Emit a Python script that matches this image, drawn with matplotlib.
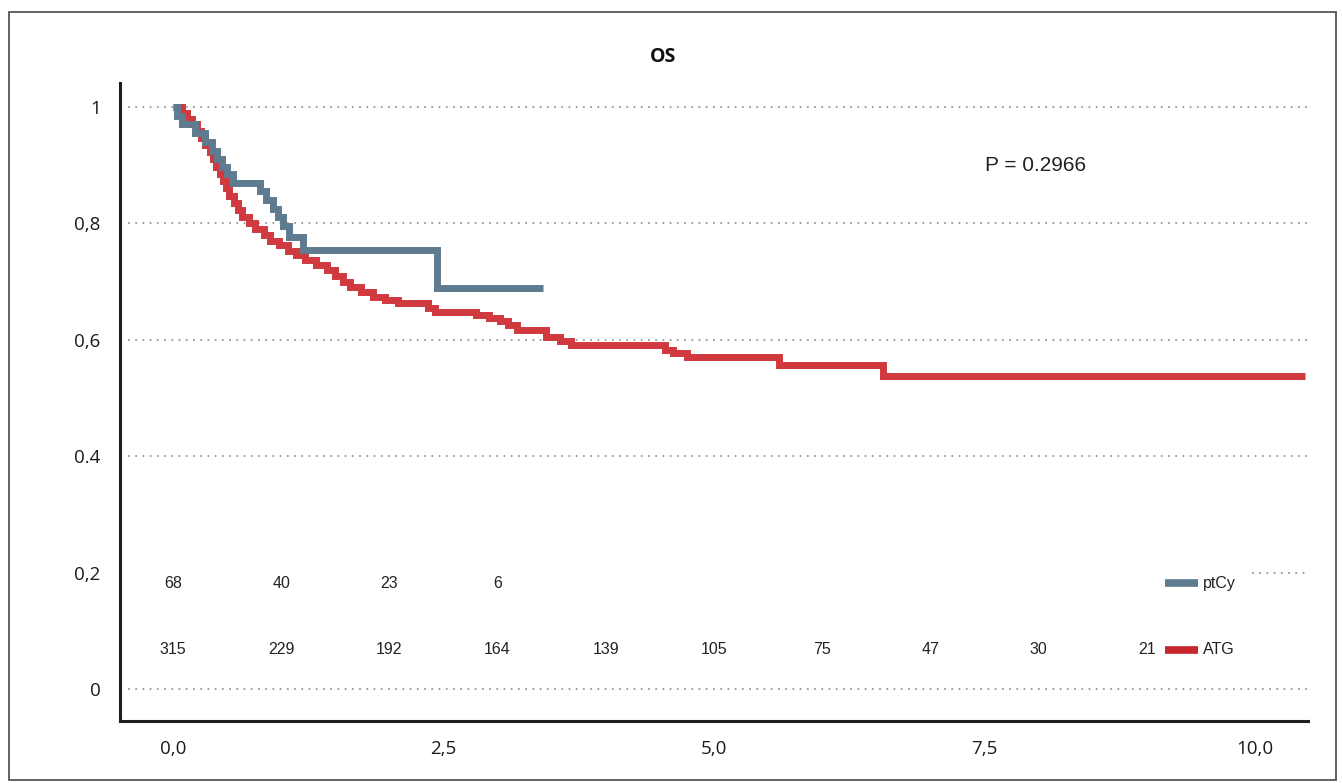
import matplotlib
matplotlib.use("Agg")
import matplotlib.pyplot as plt
from matplotlib.patches import Rectangle

# ---------------- data ----------------
ptcy_time = [0.00, 0.04, 0.08, 0.20, 0.30, 0.36, 0.41, 0.45, 0.50, 0.55,
             0.80, 0.86, 0.92, 0.97, 1.02, 1.07, 1.20, 2.44, 3.42]
ptcy_surv = [1.000, 0.985, 0.970, 0.955, 0.940, 0.925, 0.910, 0.897, 0.884, 0.870,
             0.855, 0.840, 0.825, 0.810, 0.795, 0.776, 0.754, 0.689, 0.689]

atg_time = [0.00, 0.08, 0.13, 0.18, 0.22, 0.26, 0.30, 0.34, 0.37, 0.40,
            0.43, 0.46, 0.49, 0.52, 0.56, 0.60, 0.64, 0.70, 0.76, 0.84,
            0.90, 0.98, 1.06, 1.14, 1.22, 1.32, 1.42, 1.50, 1.57, 1.64,
            1.74, 1.85, 1.96, 2.08, 2.36, 2.42, 2.80, 2.92, 3.02, 3.10,
            3.18, 3.45, 3.58, 3.68, 4.55, 4.62, 4.75, 5.60, 6.56, 10.46]
atg_surv = [1.000, 0.990, 0.980, 0.970, 0.958, 0.947, 0.935, 0.922, 0.910, 0.897,
            0.885, 0.872, 0.860, 0.847, 0.835, 0.822, 0.810, 0.800, 0.790, 0.780,
            0.770, 0.762, 0.753, 0.745, 0.737, 0.728, 0.720, 0.710, 0.700, 0.691,
            0.682, 0.674, 0.668, 0.663, 0.655, 0.648, 0.643, 0.638, 0.632, 0.625,
            0.617, 0.605, 0.598, 0.591, 0.583, 0.577, 0.570, 0.557, 0.538, 0.538]

risk_years = [0, 1, 2, 3, 4, 5, 6, 7, 8, 9]
risk_ptcy = [68, 40, 23, 6]
risk_atg = [315, 229, 192, 164, 139, 105, 75, 47, 30, 21]

group_names = ["ptCy", "ATG"]
ytick_vals = [0, 0.2, 0.4, 0.6, 0.8, 1.0]
ytick_labels = ["0", "0,2", "0.4", "0,6", "0,8", "1"]
xtick_vals = [0, 2.5, 5, 7.5, 10]
xtick_labels = ["0,0", "2,5", "5,0", "7,5", "10,0"]
title = "OS"
p_text = "P = 0.2966"

# ---------------- style ----------------
C_PTCY = "#5f7b90"
C_ATG = "#d03a3f"
GRID_C = "#9a9a9a"
TXT = "#222222"

fig = plt.figure(figsize=(13.42, 7.83), dpi=100)
fig.patch.set_facecolor("white")

# outer frame
fig.add_artist(Rectangle((9 / 1342, 3 / 783), 1327 / 1342, 768 / 783,
                         transform=fig.transFigure, fill=False,
                         edgecolor="#555555", linewidth=1.3))

ax = fig.add_axes([120 / 1342, 62 / 783, 1188 / 1342, 638 / 783])
ax.set_xlim(-0.49, 10.49)
ax.set_ylim(-0.055, 1.041)

# dotted gridlines
dot = (0, (1, 3))
for v in ytick_vals:
    if abs(v - 0.2) < 1e-9:
        ax.hlines(v, 9.97, 10.49, colors=GRID_C, linestyles=dot, linewidth=1.3, zorder=1)
    else:
        ax.hlines(v, -0.42, 10.49, colors=GRID_C, linestyles=dot, linewidth=1.3, zorder=1)

# survival curves
ax.step(atg_time, atg_surv, where="post", color=C_ATG, linewidth=5,
        solid_joinstyle="miter", solid_capstyle="butt", zorder=3)
ax.step(ptcy_time, ptcy_surv, where="post", color=C_PTCY, linewidth=5,
        solid_joinstyle="miter", solid_capstyle="butt", zorder=4)

# numbers at risk
row_y = {"ptCy": 0.182, "ATG": 0.067}
risk_font = dict(family="Liberation Sans", fontsize=11.5, color=TXT,
                 ha="center", va="center")
for yr, n in zip(risk_years, risk_ptcy):
    ax.text(yr, row_y["ptCy"], str(n), **risk_font)
for yr, n in zip(risk_years, risk_atg):
    ax.text(yr, row_y["ATG"], str(n), **risk_font)

# legend entries
for name, col in zip(group_names, [C_PTCY, "#c8262d"]):
    ax.plot([9.17, 9.47], [row_y[name], row_y[name]], color=col, linewidth=5.5,
            solid_capstyle="butt", zorder=4)
    ax.text(9.52, row_y[name], name, family="Liberation Sans", fontsize=11.5,
            color=TXT, ha="left", va="center")

# p value
ax.text(7.97, 0.90, p_text, family="Liberation Sans", fontsize=15,
        color=TXT, ha="center", va="center")

# axes styling
for s in ["top", "right"]:
    ax.spines[s].set_visible(False)
for s in ["left", "bottom"]:
    ax.spines[s].set_linewidth(2.2)
    ax.spines[s].set_color("#1e1e1e")

ax.set_yticks(ytick_vals)
ax.set_yticklabels(ytick_labels, family="Open Sans", fontsize=13.5, color="#1a1a1a")
ax.set_xticks(xtick_vals)
ax.set_xticklabels(xtick_labels, family="Open Sans", fontsize=13.5, color="#1a1a1a")
ax.tick_params(axis="y", length=0, pad=14)
ax.tick_params(axis="x", length=0, pad=14)

fig.text(663 / 1342, 1 - 57 / 783, title, family="Open Sans", fontweight="bold",
         fontsize=14, color="#111111", ha="center", va="center")

fig.savefig("out.png", dpi=100, facecolor="white")
